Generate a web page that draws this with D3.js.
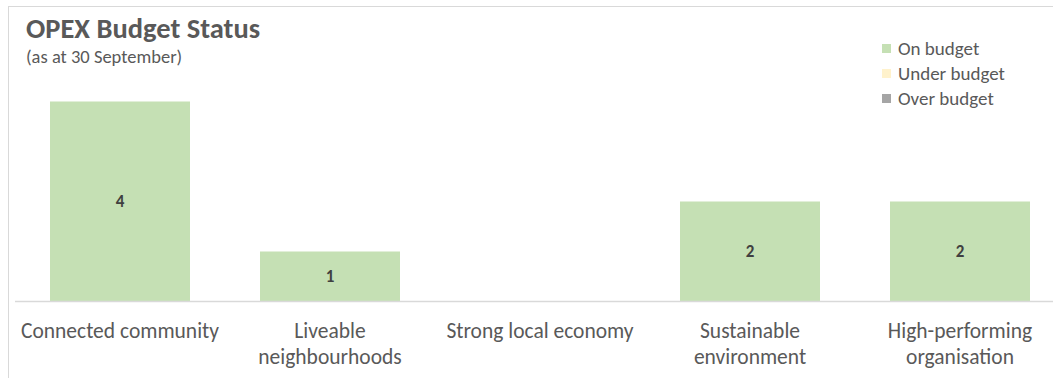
<!DOCTYPE html>
<html>
<head>
<meta charset="utf-8">
<script src="https://cdn.jsdelivr.net/npm/d3@7"></script>
<style>
  body { margin: 0; background: #fff; }
  text { font-family: Carlito, Calibri, Lato, sans-serif; }
</style>
</head>
<body>
<svg></svg>
<script>
let categories = ['Connected community', 'Liveable neighbourhoods', 'Strong local economy', 'Sustainable environment', 'High-performing organisation']
let tickLabels = [['Connected community'], ['Liveable', 'neighbourhoods'], ['Strong local economy'], ['Sustainable', 'environment'], ['High-performing', 'organisation']]
let seriesNames = ['On budget', 'Under budget', 'Over budget']
let onBudget = [4, 1, 0, 2, 2]
let underBudget = [0, 0, 0, 0, 0]
let overBudget = [0, 0, 0, 0, 0]
let colors = ['#c5e0b4', '#fff2cc', '#a5a5a5']

let width = 1053
let height = 378
let baseline = 301.5

let svg = d3.select('svg')
    .attr('width', width)
    .attr('height', height)

// chart border (right/bottom edges fall outside the picture)
svg.append('rect')
    .attr('x', 8.5)
    .attr('y', 6.5)
    .attr('width', 1100)
    .attr('height', 400)
    .attr('fill', '#fff')
    .attr('stroke', '#d9d9d9')

let rows = categories.map((c, i) => {
    return { cat: c, 'On budget': onBudget[i], 'Under budget': underBudget[i], 'Over budget': overBudget[i] }
})

let stacked = d3.stack().keys(seriesNames)(rows)

let xScale = d3.scaleBand()
    .domain(categories)
    .range([15, 1065])
    .paddingInner(1 / 3)
    .paddingOuter(1 / 6)

let yScale = d3.scaleLinear()
    .domain([0, 4])
    .range([baseline, 101.5])

let groups = svg.selectAll('g.series')
    .data(stacked)
    .enter()
    .append('g')
    .attr('class', 'series')
    .attr('fill', (d, i) => colors[i])

groups.selectAll('rect')
    .data(d => d.filter(p => p[1] - p[0] > 0))
    .enter()
    .append('rect')
    .attr('x', d => xScale(d.data.cat))
    .attr('y', d => yScale(d[1]))
    .attr('width', xScale.bandwidth())
    .attr('height', d => yScale(d[0]) - yScale(d[1]))

groups.selectAll('text')
    .data(d => d.filter(p => p[1] - p[0] > 0))
    .enter()
    .append('text')
    .attr('x', d => xScale(d.data.cat) + xScale.bandwidth() / 2)
    .attr('y', d => (yScale(d[0]) + yScale(d[1])) / 2)
    .attr('dy', '0.35em')
    .attr('text-anchor', 'middle')
    .attr('fill', '#404040')
    .style('font-size', '17px')
    .style('font-weight', 'bold')
    .text(d => d[1] - d[0])

// x axis
let xAxis = d3.axisBottom(xScale).tickSize(0).tickFormat('')
let axisG = svg.append('g')
    .attr('transform', 'translate(0,' + baseline + ')')
    .call(xAxis)
axisG.select('.domain')
    .attr('d', 'M15,0H' + width)
    .attr('stroke', '#d9d9d9')
    .attr('stroke-width', 1.5)

axisG.selectAll('.tick').each(function (d, i) {
    let t = d3.select(this).append('text')
        .attr('text-anchor', 'middle')
        .attr('fill', '#595959')
        .style('font-size', '21.5px')
    tickLabels[i].forEach((line, j) => {
        t.append('tspan')
            .attr('x', 0)
            .attr('y', 36 + j * 26)
            .text(line)
    })
})

// title
svg.append('text')
    .attr('x', 26)
    .attr('y', 38)
    .attr('fill', '#595959')
    .style('font-size', '28.5px')
    .style('font-weight', 'bold')
    .text('OPEX Budget Status')

svg.append('text')
    .attr('x', 26)
    .attr('y', 63)
    .attr('fill', '#595959')
    .style('font-size', '18.5px')
    .text('(as at 30 September)')

// legend
let legend = svg.selectAll('g.legend')
    .data(seriesNames)
    .enter()
    .append('g')
    .attr('class', 'legend')
    .attr('transform', (d, i) => 'translate(882,' + (44 + i * 25) + ')')

legend.append('rect')
    .attr('width', 9)
    .attr('height', 9)
    .attr('fill', (d, i) => colors[i])

legend.append('text')
    .attr('x', 16)
    .attr('y', 4.5)
    .attr('dy', '0.35em')
    .attr('fill', '#595959')
    .style('font-size', '19px')
    .text(d => d)
</script>
</body>
</html>
